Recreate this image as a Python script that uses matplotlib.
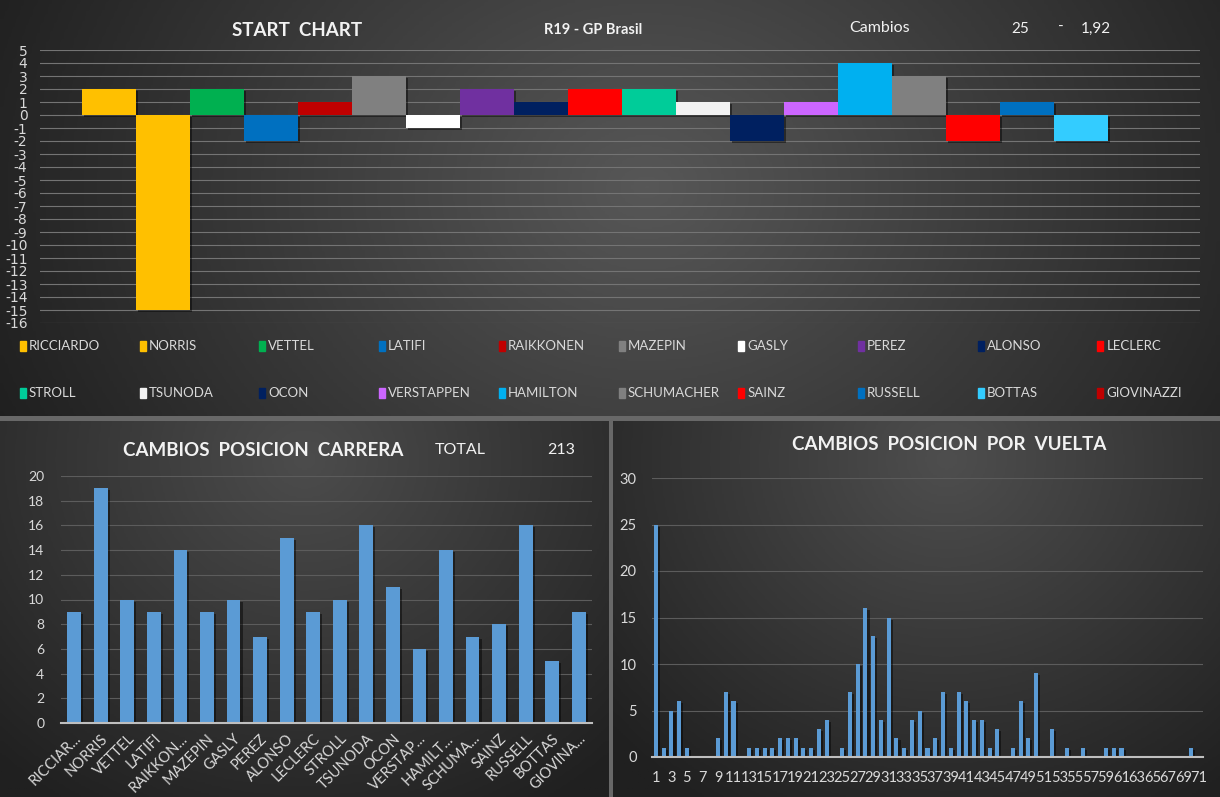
import numpy as np
import matplotlib.pyplot as plt
from matplotlib.colors import LinearSegmentedColormap
from matplotlib.patches import Rectangle
import matplotlib.patheffects as pe

plt.rcParams['font.family'] = ['Lato', 'DejaVu Sans']
plt.rcParams['axes.unicode_minus'] = False

# datos
drivers = ['RICCIARDO', 'NORRIS', 'VETTEL', 'LATIFI', 'RAIKKONEN', 'MAZEPIN', 'GASLY', 'PEREZ', 'ALONSO', 'LECLERC',
           'STROLL', 'TSUNODA', 'OCON', 'VERSTAPPEN', 'HAMILTON', 'SCHUMACHER', 'SAINZ', 'RUSSELL', 'BOTTAS', 'GIOVINAZZI']
driver_colors = ['#FFC000', '#FFC000', '#00B050', '#0070C0', '#C00000', '#808080', '#FFFFFF', '#7030A0', '#002060', '#FF0000',
                 '#00CC99', '#F2F2F2', '#002060', '#CC66FF', '#00B0F0', '#808080', '#FF0000', '#0070C0', '#33CCFF', '#C00000']
start_change = [2, -15, 2, -2, 1, 3, -1, 2, 1, 2, 2, 1, -2, 1, 4, 3, -2, 1, -2, 0]

race_labels = ['RICCIAR...', 'NORRIS', 'VETTEL', 'LATIFI', 'RAIKKON...', 'MAZEPIN', 'GASLY', 'PEREZ', 'ALONSO', 'LECLERC',
               'STROLL', 'TSUNODA', 'OCON', 'VERSTAP...', 'HAMILT...', 'SCHUMA...', 'SAINZ', 'RUSSELL', 'BOTTAS', 'GIOVINA...']
race_changes = [9, 19, 10, 9, 14, 9, 10, 7, 15, 9, 10, 16, 11, 6, 14, 7, 8, 16, 5, 9]

laps = list(range(1, 72))
lap_changes = [25, 1, 5, 6, 1, 0, 0, 0, 2, 7, 6, 0, 1, 1, 1, 1, 2, 2, 2, 1,
               1, 3, 4, 0, 1, 7, 10, 16, 13, 4, 15, 2, 1, 4, 5, 1, 2, 7, 1, 7,
               6, 4, 4, 1, 3, 0, 1, 6, 2, 9, 0, 3, 0, 1, 0, 1, 0, 0, 1, 1,
               1, 0, 0, 0, 0, 0, 0, 0, 0, 1, 0]

W, H = 1220, 797
TXT = '#d9d9d9'
BLUE = '#5b9bd5'

fig = plt.figure(figsize=(W / 100, H / 100), dpi=100)
fig.patch.set_facecolor('#686868')


def px(x0, y0, x1, y1):
    # rect en pixeles (arriba-izquierda) -> fraccion de figura
    return [x0 / W, 1 - y1 / H, (x1 - x0) / W, (y1 - y0) / H]


def fondo(rect, cx, cy, sx, sy, claro, oscuro):
    a = fig.add_axes(rect, zorder=0)
    yy, xx = np.mgrid[0:1:200j, 0:1:300j]
    d = np.clip(np.sqrt(((xx - cx) / sx) ** 2 + ((yy - cy) / sy) ** 2), 0, 1)
    cm = LinearSegmentedColormap.from_list('g', [claro, oscuro])
    a.imshow(d, cmap=cm, extent=[0, 1, 0, 1], aspect='auto', origin='lower', vmin=0, vmax=1)
    a.axis('off')


fondo(px(0, 0, W, 416), 0.53, 0.55, 0.6, 1.4, '#575757', '#1e1e1e')
fondo(px(0, 421, 609, H), 0.5, 0.9, 0.75, 1.1, '#4c4c4c', '#202020')
fondo(px(613, 421, W, H), 0.55, 0.9, 0.75, 1.1, '#4e4e4e', '#202020')

sombra = [pe.SimplePatchShadow(offset=(1.5, -1.5), shadow_rgbFace='black', alpha=0.45), pe.Normal()]

# ========================
# START CHART
# ========================
ax1 = fig.add_axes(px(40, 50, 1200, 323), zorder=2)
ax1.set_facecolor('none')
x = np.arange(len(drivers))
ax1.bar(x, start_change, width=1.0, color=driver_colors, zorder=3, path_effects=sombra)
ax1.set_ylim(-16, 5)
ax1.set_xlim(-1.28, 20.2)
ax1.set_yticks(range(-16, 6))
ax1.set_xticks([])
ax1.grid(axis='y', color='#747474', linewidth=0.8, zorder=0)
ax1.tick_params(axis='y', length=0, pad=9, labelcolor=TXT)
for s in ax1.spines.values():
    s.set_visible(False)
for lab in ax1.get_yticklabels():
    lab.set_fontfamily(['DejaVu Sans'])
    lab.set_fontsize(10)

fig.text(297 / W, 1 - 31 / H, 'START  CHART', ha='center', va='center', fontsize=13.5,
         fontweight='bold', color='#f2f2f2')
fig.text(593 / W, 1 - 30 / H, 'R19 - GP Brasil', ha='center', va='center', fontsize=10.5,
         fontweight='bold', color='#f2f2f2')
fig.text(880 / W, 1 - 28 / H, 'Cambios', ha='center', va='center', fontsize=11.5, color='#f2f2f2')
fig.text(1020 / W, 1 - 29 / H, '25', ha='center', va='center', fontsize=11, color='#f2f2f2')
fig.text(1061 / W, 1 - 27 / H, '-', ha='center', va='center', fontsize=11, color='#f2f2f2')
fig.text(1096 / W, 1 - 29 / H, '1,92', ha='center', va='center', fontsize=11, color='#f2f2f2')

# leyenda (2 filas x 10)
for i, (name, c) in enumerate(zip(drivers, driver_colors)):
    fila, col = divmod(i, 10)
    mx = 20 + col * 119.7
    my = 346 + fila * 47
    fig.add_artist(Rectangle((mx / W, 1 - (my + 5) / H), 6 / W, 10 / H,
                             transform=fig.transFigure, color=c, zorder=5))
    fig.text((mx + 9) / W, 1 - my / H, name, ha='left', va='center', fontsize=9.5, color=TXT)

# ========================
# CAMBIOS POSICION CARRERA
# ========================
ax2 = fig.add_axes(px(61, 476, 592, 723), zorder=2)
ax2.set_facecolor('none')
xr = np.arange(len(race_labels))
ax2.bar(xr, race_changes, width=0.52, color=BLUE, zorder=3, path_effects=sombra)
ax2.set_xlim(-0.5, len(race_labels) - 0.5)
ax2.set_ylim(0, 20)
ax2.set_yticks(range(0, 21, 2))
ax2.set_xticks(xr)
ax2.set_xticklabels(race_labels, rotation=45, ha='right', rotation_mode='anchor')
ax2.grid(axis='y', color='#5c5c5c', linewidth=0.8, zorder=0)
ax2.tick_params(length=0, labelcolor=TXT, labelsize=10)
ax2.tick_params(axis='y', pad=12)
ax2.tick_params(axis='x', pad=6, labelsize=10.5)
for s in ['top', 'right', 'left']:
    ax2.spines[s].set_visible(False)
ax2.spines['bottom'].set_color('#bfbfbf')
ax2.spines['bottom'].set_linewidth(1.5)
ax2.spines['bottom'].set_zorder(4)

fig.text(263 / W, 1 - 450 / H, 'CAMBIOS  POSICION  CARRERA', ha='center', va='center', fontsize=13.5,
         fontweight='bold', color='#f2f2f2')
fig.text(460 / W, 1 - 450 / H, 'TOTAL', ha='center', va='center', fontsize=11.5, color='#f2f2f2')
fig.text(561 / W, 1 - 450 / H, '213', ha='center', va='center', fontsize=11.5, color='#f2f2f2')

# ========================
# CAMBIOS POSICION POR VUELTA
# ========================
ax3 = fig.add_axes(px(652, 478, 1203, 757), zorder=2)
ax3.set_facecolor('none')
ax3.bar(laps, lap_changes, width=0.52, color=BLUE, zorder=3, path_effects=sombra)
ax3.set_xlim(0.5, len(laps) + 0.5)
ax3.set_ylim(0, 30)
ax3.set_yticks(range(0, 31, 5))
ax3.set_xticks(laps[::2])
ax3.set_xticklabels([str(v) for v in laps[::2]])
ax3.grid(axis='y', color='#5c5c5c', linewidth=0.8, zorder=0)
ax3.tick_params(length=0, labelcolor=TXT, labelsize=10.5)
ax3.tick_params(axis='y', pad=11)
ax3.tick_params(axis='x', pad=10)
for s in ['top', 'right', 'left']:
    ax3.spines[s].set_visible(False)
ax3.spines['bottom'].set_color('#bfbfbf')
ax3.spines['bottom'].set_linewidth(1.5)
ax3.spines['bottom'].set_zorder(4)

fig.text(949 / W, 1 - 445 / H, 'CAMBIOS  POSICION  POR  VUELTA', ha='center', va='center', fontsize=13.5,
         fontweight='bold', color='#f2f2f2')

fig.savefig('out.png', dpi=100, facecolor=fig.get_facecolor())
